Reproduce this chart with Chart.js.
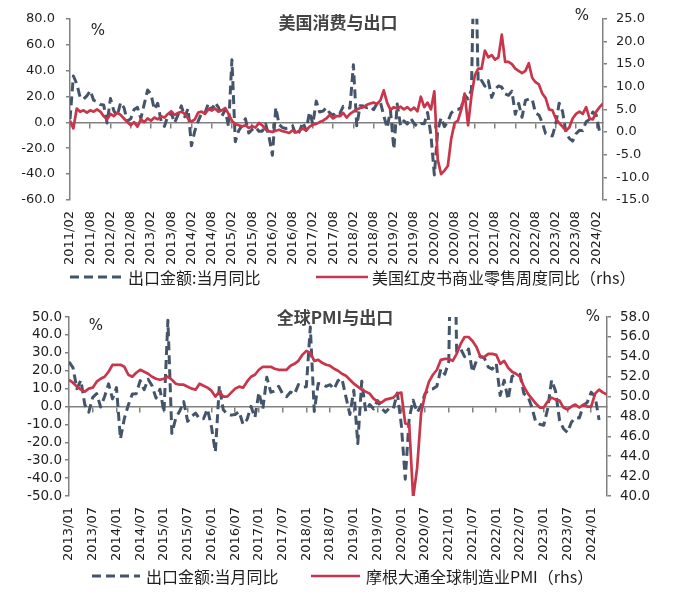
<!DOCTYPE html>
<html><head><meta charset="utf-8">
<script src="https://cdn.jsdelivr.net/npm/chart.js@4.4.1/dist/chart.umd.min.js"></script>
<style>
html,body{margin:0;padding:0;background:#fff;}
#wrap{position:relative;width:674px;height:602px;background:#fff;}
canvas{position:absolute;left:0;}
#c1{top:0;} #c2{top:300px;}
</style></head><body>
<div id="wrap"><canvas id="c1" width="674" height="300"></canvas><canvas id="c2" width="674" height="302"></canvas></div>
<script>
// ---------- DATA ----------
// China exports YoY (%), monthly, 2011/02 .. 2024/03
const exportsYoY = [
 2.4,35.8,29.9,19.4,17.9,20.4,24.5,17.1,15.9,13.8,13.4,
 -0.5,18.4,8.9,4.9,15.3,11.3,1.0,2.7,9.9,11.6,2.9,14.1,
 25.0,21.8,10.0,14.7,1.0,-3.1,5.1,7.2,-0.3,5.6,12.7,4.3,
 10.6,-18.1,-6.6,0.9,7.0,7.2,14.5,9.4,15.3,11.6,4.7,9.7,
 -3.3,48.3,-15.0,-6.4,-2.5,2.8,-8.3,-5.5,-3.7,-6.9,-6.8,-1.4,
 -11.2,-25.4,11.5,-1.8,-4.1,-4.8,-4.4,-2.8,-10.0,-7.3,0.1,-6.1,
 7.9,-1.3,16.4,8.0,8.7,11.3,7.2,5.5,8.1,6.9,12.3,10.9,
 11.1,44.5,-2.7,12.9,12.6,11.3,12.2,9.8,14.5,15.6,5.4,-4.4,
 9.1,-20.7,14.2,-2.7,1.1,-1.3,3.3,-1.0,-3.2,-0.9,-1.1,7.6,
 -10.0,-40.6,-6.6,3.5,-3.3,0.5,7.2,9.5,9.9,11.4,21.1,18.1,
 25.0,154.9,30.6,32.3,27.9,32.2,19.3,25.6,28.1,27.1,22.0,20.9,
 24.1,6.2,14.7,3.9,16.9,17.9,18.0,7.1,5.7,-0.3,-8.7,-9.9,
 -10.5,-1.3,14.8,8.5,-7.5,-12.4,-14.5,-8.8,-6.2,-6.4,0.5,2.3,
 8.0,5.6,-7.5
];
// US Redbook retail sales YoY (%), read monthly, 2011/02 .. 2024/04
const redbookYoY = [
 2.5,0.8,5.2,4.5,4.8,4.3,4.8,4.5,5.0,4.5,
 3.5,2.8,4.0,3.5,4.3,3.8,3.0,2.2,1.5,2.2,
 1.2,2.8,2.2,3.0,2.5,3.2,2.8,3.5,3.2,4.0,
 4.6,3.8,4.2,4.5,4.0,3.0,2.3,2.8,4.3,4.5,
 4.0,5.0,4.8,5.2,4.5,4.8,5.3,4.0,2.5,1.8,
 1.5,1.2,1.5,0.9,1.3,1.0,2.0,1.5,0.5,0.2,
 0.0,0.3,0.5,0.2,0.0,-0.2,0.4,-0.1,0.3,0.8,
 0.3,1.2,1.6,1.8,2.2,2.5,3.0,3.8,3.0,3.5,
 3.5,4.2,3.2,4.0,4.5,5.0,5.3,5.5,6.0,6.3,
 6.5,6.2,7.0,9.2,6.5,4.9,5.5,5.2,5.6,5.0,
 5.5,4.8,5.4,4.6,7.8,5.5,6.5,5.0,9.0,-6.0,
 -9.3,-8.5,-7.5,-1.5,2.0,2.5,5.0,8.5,1.5,8.0,
 12.5,14.0,14.0,18.0,16.5,17.0,16.0,16.5,21.5,15.5,
 15.5,15.0,14.0,13.5,13.0,13.5,15.2,12.0,11.0,10.5,
 8.5,7.5,5.0,4.8,3.0,2.0,1.2,0.3,1.0,3.0,
 4.0,4.5,4.0,5.5,3.0,2.8,4.5,5.5,6.3
];
// JPMorgan global manufacturing PMI, monthly, 2013/01 .. 2024/05
const pmiGlobal = [
 51.7,51.4,51.0,50.7,50.5,50.8,50.9,51.5,51.8,52.0,52.5,53.2,
 53.2,53.2,53.0,52.2,52.0,52.4,52.7,52.5,52.3,52.0,51.8,51.7,
 51.8,52.0,51.7,51.3,51.2,51.2,51.0,50.8,50.7,51.3,51.1,50.9,
 50.6,50.0,50.5,50.0,50.0,50.4,50.8,51.0,50.9,51.5,52.0,52.2,
 52.7,53.0,53.0,53.0,52.8,52.7,52.7,52.7,53.1,53.3,53.6,54.2,
 54.6,54.4,53.6,53.7,53.4,53.2,53.1,52.8,52.6,52.3,52.1,51.7,
 51.3,51.0,50.7,50.5,50.3,49.8,49.5,49.4,49.7,49.8,49.9,50.3,
 50.4,47.3,47.2,39.8,42.8,48.3,50.2,51.5,52.2,52.7,53.7,53.8,
 53.8,53.6,54.3,55.3,56.0,56.0,55.6,55.0,54.0,54.0,54.3,54.3,
 54.2,53.3,53.6,52.9,52.5,52.3,52.0,51.0,50.3,49.8,49.3,48.9,
 48.9,49.5,49.9,49.7,49.6,48.9,48.7,49.0,49.2,48.9,49.2,49.0,
 49.0,50.3,50.7,50.4,50.2
];
// bottom chart starts at 2013/01, which is entry 23 of exportsYoY
const bottomStartIndex = 23;
const tickLabelsTop = ['2011/02','2011/08','2012/02','2012/08','2013/02','2013/08','2014/02','2014/08',
 '2015/02','2015/08','2016/02','2016/08','2017/02','2017/08','2018/02','2018/08','2019/02','2019/08',
 '2020/02','2020/08','2021/02','2021/08','2022/02','2022/08','2023/02','2023/08','2024/02'];
const tickLabelsBottom = ['2013/01','2013/07','2014/01','2014/07','2015/01','2015/07','2016/01','2016/07',
 '2017/01','2017/07','2018/01','2018/07','2019/01','2019/07','2020/01','2020/07','2021/01','2021/07',
 '2022/01','2022/07','2023/01','2023/07','2024/01'];
const seriesNames = {
  exports: '出口金额:当月同比',
  redbook: '美国红皮书商业零售周度同比（rhs）',
  pmi: '摩根大通全球制造业PMI（rhs）'
};
const titles = {top: '美国消费与出口', bottom: '全球PMI与出口'};

// ---------- STYLE ----------
const DASH_COLOR = '#44546A';
const RED_COLOR = '#C9354A';
const AXIS_COLOR = '#808080';
const TEXT_COLOR = '#1e1e1e';
Chart.defaults.font.family = '"DejaVu Sans", sans-serif';
Chart.defaults.color = TEXT_COLOR;

const pts = arr => arr.map((v, i) => ({x: i, y: v}));

const annotPlugin = {
  id: 'annot',
  afterDraw(chart, args, o) {
    const ctx = chart.ctx;
    ctx.save();
    ctx.textBaseline = 'middle';
    ctx.textAlign = 'center';
    ctx.fillStyle = '#444';
    ctx.font = 'bold 17px "Noto Sans CJK SC"';
    ctx.fillText(o.title, o.titlePos[0], o.titlePos[1]);
    ctx.fillStyle = TEXT_COLOR;
    ctx.font = '15px "DejaVu Sans"';
    ctx.fillText('%', o.pctL[0], o.pctL[1]);
    ctx.fillText('%', o.pctR[0], o.pctR[1]);
    // legend
    ctx.textAlign = 'left';
    ctx.font = '16px "Noto Sans CJK SC"';
    chart.data.datasets.forEach((ds, i) => {
      const it = o.legend[i];
      ctx.save();
      ctx.strokeStyle = ds.borderColor;
      ctx.lineWidth = ds.borderWidth;
      ctx.setLineDash(ds.borderDash || []);
      ctx.beginPath();
      ctx.moveTo(it[0], o.legendY);
      ctx.lineTo(it[1], o.legendY);
      ctx.stroke();
      ctx.restore();
      ctx.fillStyle = TEXT_COLOR;
      ctx.fillText(ds.label, it[2], o.legendY + 1);
    });
    ctx.restore();
  }
};

function makeChart(canvasId, cfg) {
  const yTickFont = {size: cfg.yFont};
  return new Chart(document.getElementById(canvasId), {
    type: 'line',
    data: {datasets: [
      {label: seriesNames.exports, data: pts(cfg.dashData), xAxisID: 'x', yAxisID: 'y',
       borderColor: DASH_COLOR, borderWidth: 3, borderDash: [9, 5], pointRadius: 0,
       borderJoinStyle: 'round', tension: 0, order: 1},
      {label: cfg.redLabel, data: pts(cfg.redData), xAxisID: 'x', yAxisID: 'y1',
       borderColor: RED_COLOR, borderWidth: 2.7, pointRadius: 0,
       borderJoinStyle: 'round', tension: 0, order: 0}
    ]},
    options: {
      responsive: false, animation: false, devicePixelRatio: 1,
      layout: {padding: {top: cfg.padTop, bottom: cfg.padBottom, left: 0, right: 0}},
      plugins: {legend: {display: false}, tooltip: {enabled: false}, annot: cfg.annot},
      scales: {
        x: {type: 'linear', position: 'bottom', min: 0, max: cfg.xMax,
            grid: {display: false}, border: {display: false},
            ticks: {stepSize: 6, autoSkip: false, includeBounds: false, minRotation: 90, maxRotation: 90,
                    padding: cfg.xPad, font: {size: 13}, color: TEXT_COLOR,
                    callback: v => cfg.xLabels[v / 6]},
            afterFit: s => { s.height = 70; }},
        x2: {type: 'linear', axis: 'x', position: {y: 0}, min: 0, max: cfg.xMax,
             ticks: {display: false, stepSize: 6, includeBounds: false, autoSkip: false},
             grid: {display: true, drawOnChartArea: false, drawTicks: true, tickLength: 5,
                    color: AXIS_COLOR, lineWidth: 1.5},
             border: {display: true, color: AXIS_COLOR, width: 1.5}},
        y: {type: 'linear', position: 'left', min: cfg.yMin, max: cfg.yMax,
            ticks: {stepSize: cfg.yStep, padding: cfg.yPadL, font: yTickFont, color: TEXT_COLOR,
                    autoSkip: false, callback: v => v.toFixed(1)},
            grid: {display: true, drawOnChartArea: false, drawTicks: true, tickLength: 4,
                   color: AXIS_COLOR, lineWidth: 1.5},
            border: {display: true, color: AXIS_COLOR, width: 1.5},
            afterFit: s => { s.width = cfg.leftW; }},
        y1: {type: 'linear', position: 'right', min: cfg.y1Min, max: cfg.y1Max,
             ticks: {stepSize: cfg.y1Step, padding: cfg.yPadR, font: yTickFont, color: TEXT_COLOR,
                     autoSkip: false, callback: v => v.toFixed(1)},
             grid: {display: true, drawOnChartArea: false, drawTicks: true, tickLength: 4,
                    color: AXIS_COLOR, lineWidth: 1.5},
             border: {display: true, color: AXIS_COLOR, width: 1.5},
             afterFit: s => { s.width = cfg.rightW; }}
      }
    },
    plugins: [annotPlugin]
  });
}

makeChart('c1', {
  dashData: exportsYoY, redData: redbookYoY, redLabel: seriesNames.redbook,
  xMax: redbookYoY.length - 1, xLabels: tickLabelsTop, xPad: 3,
  yMin: -60, yMax: 80, yStep: 20, y1Min: -15, y1Max: 25, y1Step: 5, yFont: 13,
  yPadL: 11, yPadR: 9, leftW: 70, rightW: 71, padTop: 16, padBottom: 30,
  annot: {title: titles.top, titlePos: [338, 23], pctL: [98, 31], pctR: [582, 16],
          legendY: 277, legend: [[70, 122, 128], [316, 368, 372]]}
});

makeChart('c2', {
  dashData: exportsYoY.slice(bottomStartIndex), redData: pmiGlobal, redLabel: seriesNames.pmi,
  xMax: pmiGlobal.length - 1, xLabels: tickLabelsBottom, xPad: 3,
  yMin: -50, yMax: 50, yStep: 10, y1Min: 40, y1Max: 58, y1Step: 2, yFont: 13.5,
  yPadL: 3, yPadR: 9, leftW: 69, rightW: 67, padTop: 12, padBottom: 36,
  annot: {title: titles.bottom, titlePos: [335, 18], pctL: [96, 26], pctR: [593, 17],
          legendY: 276, legend: [[92, 140, 146], [311, 360, 366]]}
});
</script>
</body></html>
